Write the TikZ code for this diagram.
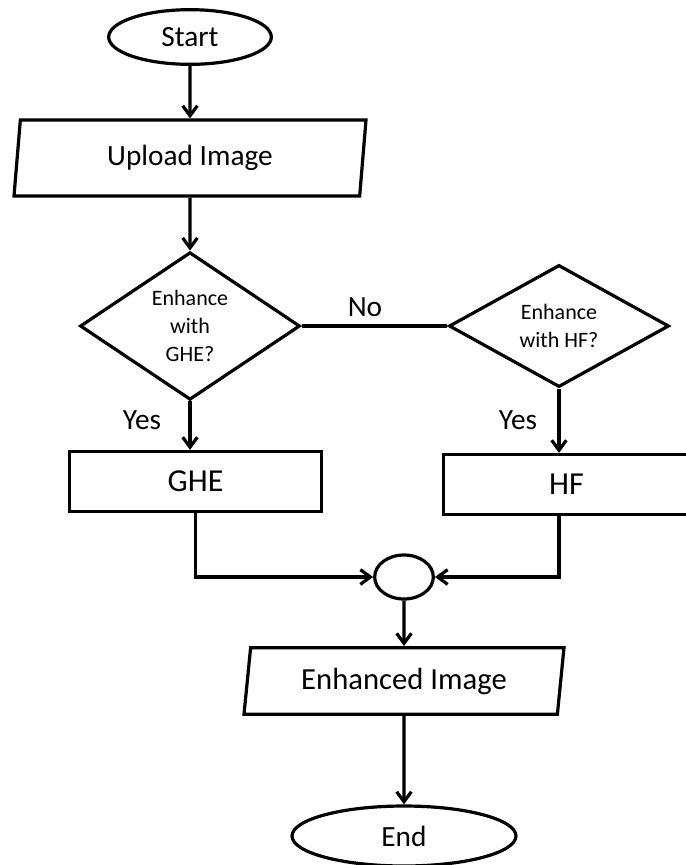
\documentclass[tikz,border=0pt]{standalone}
\usepackage{fontspec}
\setmainfont{Carlito}
\usetikzlibrary{shapes.geometric,arrows.meta}

\begin{document}
\begin{tikzpicture}[x=0.75pt, y=-0.75pt, line width=2.4pt,
    every node/.style={font=\fontsize{22}{26}\selectfont},
    term/.style={draw, ellipse, inner sep=0pt},
    io/.style={draw, trapezium, trapezium left angle=76, trapezium right angle=104,
      trapezium stretches body, inner sep=0pt},
    dec/.style={draw, diamond, inner sep=0pt, align=center, font=\fontsize{16.5}{21}\selectfont},
    proc/.style={draw, rectangle, inner sep=0pt, font=\fontsize{24}{28}\selectfont},
    arr/.style={-{Straight Barb[length=7.5pt, width=11pt]}}]

  \useasboundingbox (0,0) rectangle (686,865);

  % Main column
  \node[term, minimum width=122pt, minimum height=41pt] (s) at (190,37) {Start};
  \node[io, minimum width=264pt, minimum height=57pt] (up) at (190,158) {Upload Image};
  \node[dec, minimum width=165pt, minimum height=91pt] (d1) at (190,326) {Enhance\\with\\GHE?};
  \node[dec, minimum width=165pt, minimum height=91pt] (d2) at (559,326) {Enhance\\with HF?};

  \node[proc, minimum width=189pt, minimum height=45pt] (g) at (195.5,481.5) {GHE};
  \node[proc, minimum width=185pt, minimum height=45pt] (h) at (566.5,484.5) {HF};

  \node[term, minimum width=44pt, minimum height=33pt] (j) at (404,577) {};
  \node[io, minimum width=240pt, minimum height=50pt] (enh) at (404,681) {\fontsize{23}{27}\selectfont Enhanced Image};
  \node[term, minimum width=168pt, minimum height=45pt] (e) at (404,836) {End};

  % Labels
  \node (no) at (365,307) {No};
  \node (y1) at (142,420) {Yes};
  \node (y2) at (518,420) {Yes};

  % Connectors
  \draw[arr] (s.south) -- (up.north);
  \draw[arr] (up.south) -- (d1.north);
  \draw (d1.east) -- (d2.west);
  \draw[arr] (d1.south) -- (d1.south |- g.north);
  \draw[arr] (d2.south) -- (d2.south |- h.north);
  \draw[arr] (g.south) |- (j.west);
  \draw[arr] (d2.south |- h.south) |- (j.east);
  \draw[arr] (j.south) -- (enh.north);
  \draw[arr] (enh.south) -- (e.north);
\end{tikzpicture}
\end{document}
